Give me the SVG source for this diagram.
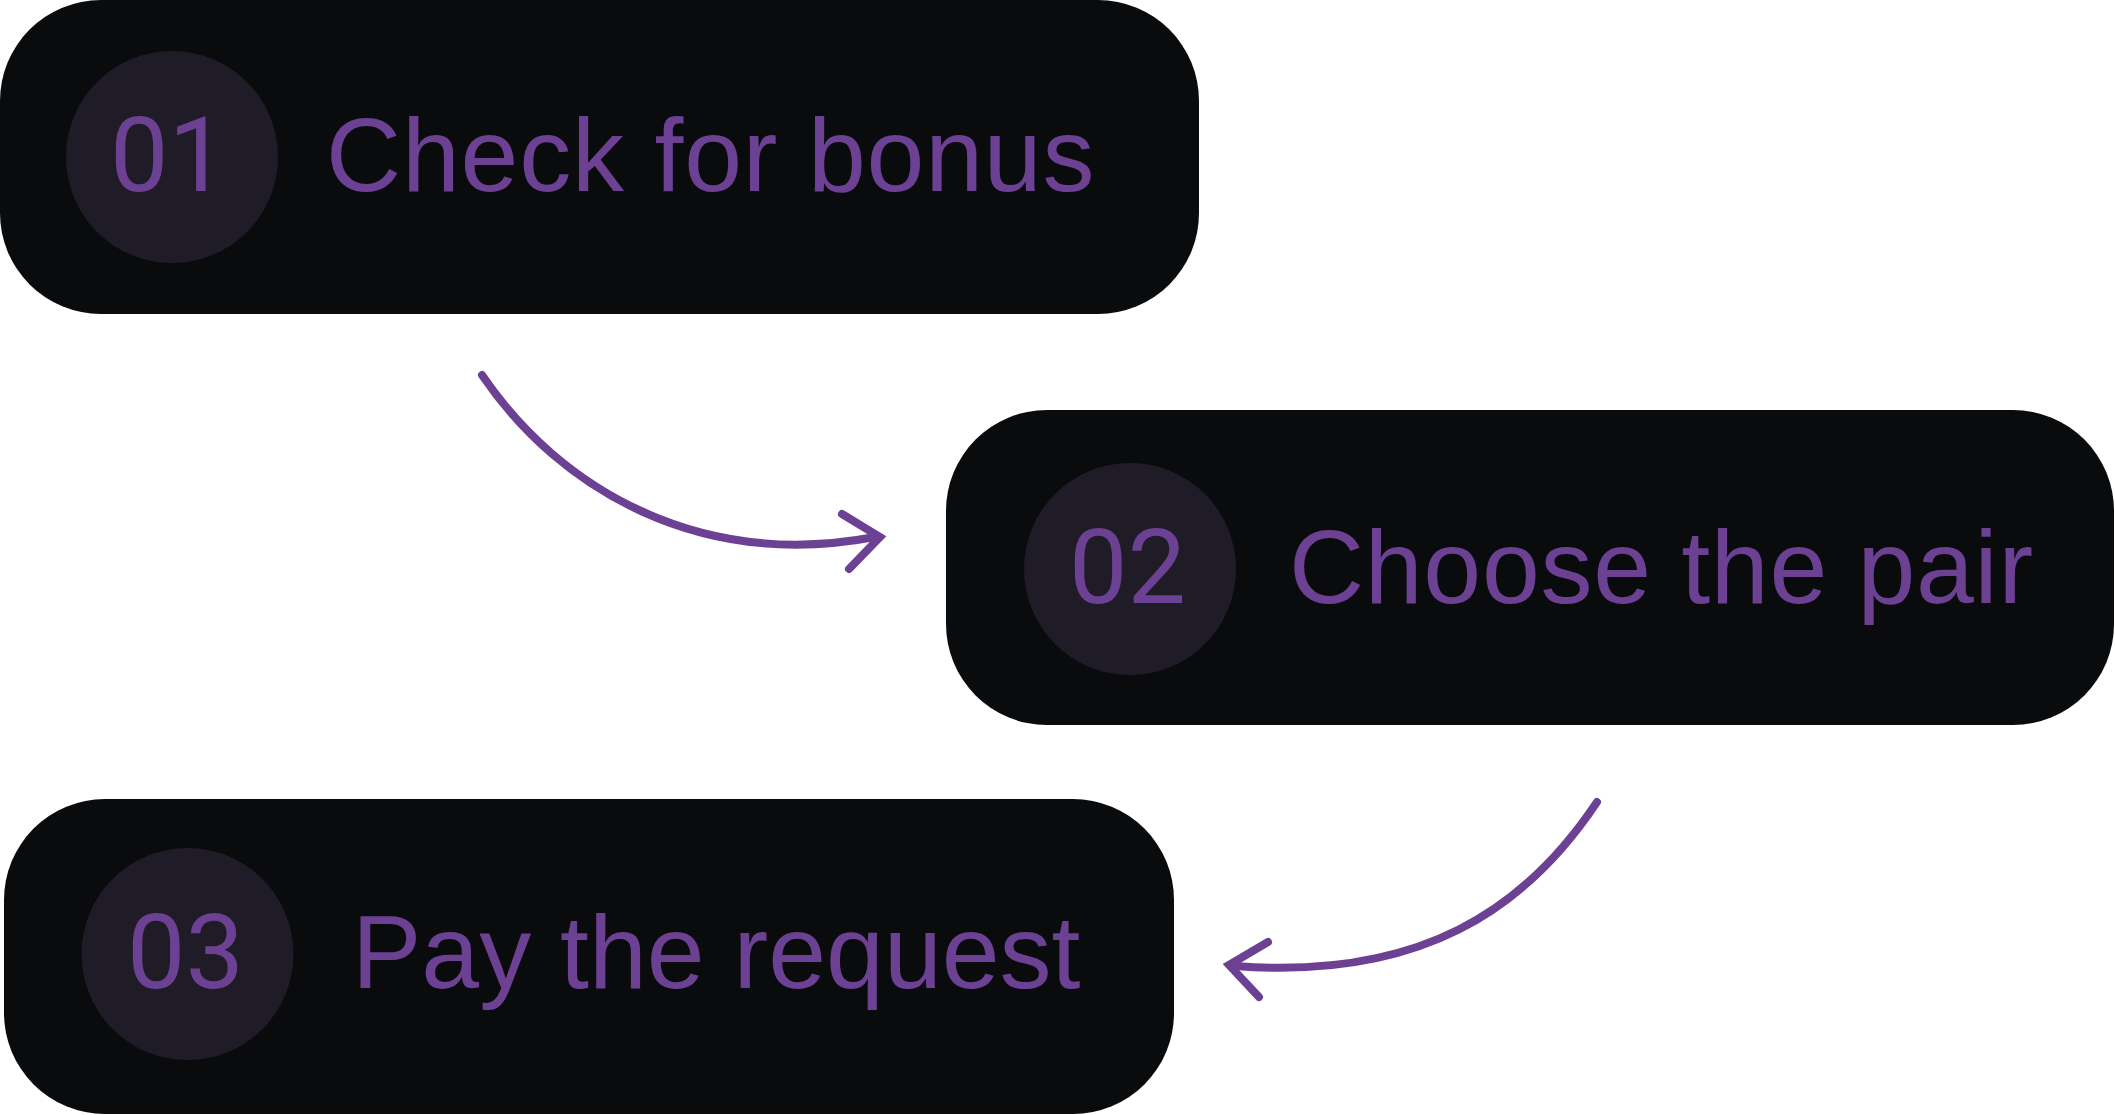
<svg xmlns="http://www.w3.org/2000/svg" width="2115" height="1115" viewBox="0 0 2115 1115">
  <style>
    .box { fill: #0a0b0d; }
    .badge { fill: #201c27; }
    .num { font-family: Roboto, "Liberation Sans", Arial, sans-serif; font-size: 104px; fill: #6c4193; }
    .label { font-family: "Liberation Sans", Arial, Helvetica, sans-serif; font-size: 104px; fill: #6c4193; }
    .conn { fill: none; stroke: #6c4193; stroke-width: 8; stroke-linecap: round; stroke-linejoin: miter; }
  </style>
  <rect width="2115" height="1115" fill="#ffffff"/>
  <g id="node-01">
    <rect class="box" x="0" y="0" width="1199" height="314" rx="101" ry="101"/>
    <circle class="badge" cx="172" cy="157" r="106"/>
    <text class="num" x="110" y="191">01</text>
    <text class="label" x="326" y="191" letter-spacing="0.8">Check for bonus</text>
  </g>
  <g id="node-02">
    <rect class="box" x="946" y="410" width="1168" height="315" rx="101" ry="101"/>
    <circle class="badge" cx="1130" cy="569" r="106"/>
    <text class="num" x="1069" y="603">02</text>
    <text class="label" x="1289" y="603" letter-spacing="0.7">Choose the pair</text>
  </g>
  <g id="node-03">
    <rect class="box" x="4" y="799" width="1170" height="315" rx="101" ry="101"/>
    <circle class="badge" cx="187.5" cy="954" r="106"/>
    <text class="num" x="127" y="988">03</text>
    <text class="label" x="352" y="988">Pay the request</text>
  </g>
  <g id="connectors">
    <path class="conn" d="M482,375 C560,490 700,570 875,537"/>
    <path class="conn" d="M842,514 L880,537 L849,569"/>
    <path class="conn" d="M1597,802 C1525,910 1420,980 1235,966"/>
    <path class="conn" d="M1268,942 L1229,965 L1259,997"/>
  </g>
</svg>
